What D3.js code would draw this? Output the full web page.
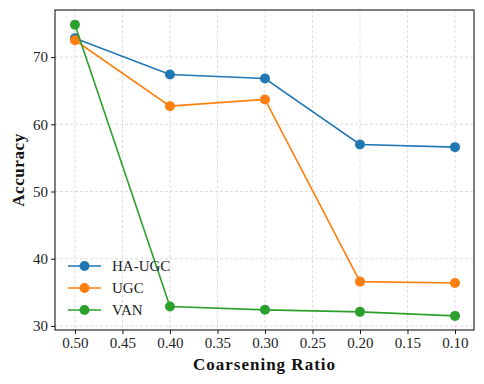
<!DOCTYPE html>
<html>
<head>
<meta charset="utf-8">
<script src="https://cdn.jsdelivr.net/npm/d3@7"></script>
<style>
  body { margin: 0; background: #fff; }
  text { font-family: "Liberation Serif", "DejaVu Serif", serif; }
</style>
</head>
<body>
<div id="chart"></div>
<script>
// data
const ratios = [0.50, 0.40, 0.30, 0.20, 0.10]
const haUgc = [72.8, 67.4, 66.8, 57.0, 56.6]
const ugc = [72.5, 62.7, 63.7, 36.6, 36.4]
const van = [74.8, 32.9, 32.4, 32.1, 31.5]
const seriesNames = ['HA-UGC', 'UGC', 'VAN']
const xTicks = [0.50, 0.45, 0.40, 0.35, 0.30, 0.25, 0.20, 0.15, 0.10]
const yTicks = [30, 40, 50, 60, 70]

const width = 484
const height = 384
const margin = {top: 10, right: 10, bottom: 54, left: 55}

const colors = ['#1f77b4', '#ff7f0e', '#2ca02c']
const allSeries = [haUgc, ugc, van]

let svg = d3.select('#chart')
    .append('svg')
    .attr('width', width)
    .attr('height', height)

// reversed x axis
const x = d3.scaleLinear()
    .domain([0.521, 0.08])
    .range([margin.left, width - margin.right])

const y = d3.scaleLinear()
    .domain([29.4, 77.0])
    .range([height - margin.bottom, margin.top])

// grid
svg.append('g')
    .selectAll('line')
    .data(xTicks)
    .join('line')
    .attr('x1', d => x(d)).attr('x2', d => x(d))
    .attr('y1', margin.top).attr('y2', height - margin.bottom)
    .attr('stroke', '#d0d0d0')
    .attr('stroke-width', 0.7)
    .attr('stroke-dasharray', '3,2')

svg.append('g')
    .selectAll('line')
    .data(yTicks)
    .join('line')
    .attr('y1', d => y(d)).attr('y2', d => y(d))
    .attr('x1', margin.left).attr('x2', width - margin.right)
    .attr('stroke', '#d0d0d0')
    .attr('stroke-width', 0.7)
    .attr('stroke-dasharray', '3,2')

// axes
let xAxis = svg.append('g')
    .attr('transform', 'translate(0,' + (height - margin.bottom) + ')')
    .call(d3.axisBottom(x).tickValues(xTicks).tickFormat(d3.format('.2f')).tickSizeOuter(0).tickSize(4))
let yAxis = svg.append('g')
    .attr('transform', 'translate(' + margin.left + ',0)')
    .call(d3.axisLeft(y).tickValues(yTicks).tickSizeOuter(0).tickSize(4))

;[xAxis, yAxis].forEach(a => {
    a.attr('font-family', '"Liberation Serif", serif').attr('font-size', 15)
    a.select('.domain').remove()
    a.selectAll('text').attr('fill', '#222')
    a.selectAll('line').attr('stroke', '#000').attr('stroke-width', 0.9)
})
xAxis.selectAll('text').attr('y', 5).attr('dy', '0.85em')

// frame
svg.append('rect')
    .attr('x', margin.left)
    .attr('y', margin.top)
    .attr('width', width - margin.left - margin.right)
    .attr('height', height - margin.top - margin.bottom)
    .attr('fill', 'none')
    .attr('stroke', '#000')
    .attr('stroke-width', 1)

// lines and markers
const line = d3.line()
    .x((d, i) => x(ratios[i]))
    .y(d => y(d))

allSeries.forEach((vals, k) => {
    svg.append('path')
        .datum(vals)
        .attr('fill', 'none')
        .attr('stroke', colors[k])
        .attr('stroke-width', 1.6)
        .attr('d', line)
    svg.append('g')
        .selectAll('circle')
        .data(vals)
        .join('circle')
        .attr('cx', (d, i) => x(ratios[i]))
        .attr('cy', d => y(d))
        .attr('r', 5)
        .attr('fill', colors[k])
})

// legend
let legend = svg.append('g')
seriesNames.forEach((name, k) => {
    const ly = 266 + k * 22
    legend.append('line')
        .attr('x1', 68).attr('x2', 101)
        .attr('y1', ly).attr('y2', ly)
        .attr('stroke', colors[k])
        .attr('stroke-width', 1.6)
    legend.append('circle')
        .attr('cx', 84.5).attr('cy', ly)
        .attr('r', 5)
        .attr('fill', colors[k])
    legend.append('text')
        .attr('x', 112).attr('y', ly)
        .attr('dy', '0.35em')
        .attr('font-size', 15)
        .attr('fill', '#222')
        .text(name)
})

// axis titles
svg.append('text')
    .attr('x', (margin.left + width - margin.right) / 2)
    .attr('y', 370)
    .attr('text-anchor', 'middle')
    .attr('font-size', 17)
    .attr('letter-spacing', 1)
    .attr('font-weight', 'bold')
    .attr('fill', '#111')
    .text('Coarsening Ratio')

svg.append('text')
    .attr('transform', 'translate(24,' + ((margin.top + height - margin.bottom) / 2) + ') rotate(-90)')
    .attr('text-anchor', 'middle')
    .attr('font-size', 17)
    .attr('letter-spacing', 0.6)
    .attr('font-weight', 'bold')
    .attr('fill', '#111')
    .text('Accuracy')
</script>
</body>
</html>
